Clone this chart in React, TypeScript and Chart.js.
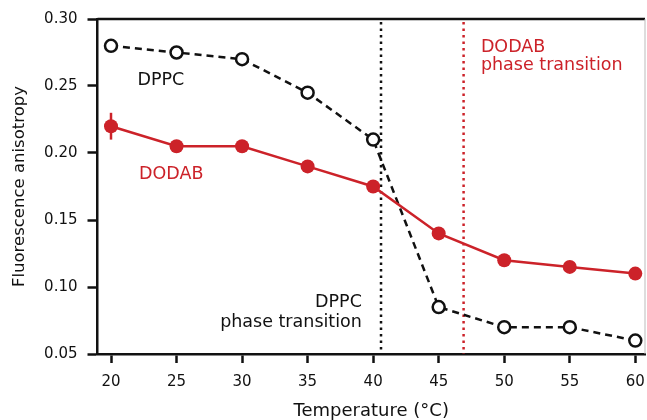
import React, { useEffect, useRef } from "react";
import { Chart, registerables } from "chart.js";

Chart.register(...registerables);

// Temperatures (°C) at which anisotropy was measured
const temperatures = [20, 25, 30, 35, 40, 45, 50, 55, 60];
// Fluorescence anisotropy of DPPC vesicles
const dppcValues = [0.28, 0.275, 0.27, 0.245, 0.21, 0.085, 0.07, 0.07, 0.06];
// Fluorescence anisotropy of DODAB vesicles
const dodabValues = [0.22, 0.205, 0.205, 0.19, 0.175, 0.14, 0.12, 0.115, 0.11];
// Error (± half range) on DODAB points; only the first one is visible
const dodabErrors = [0.01, 0, 0, 0, 0, 0, 0, 0, 0];
// Phase transition temperatures (°C)
const dppcTransition = 40.6;
const dodabTransition = 46.9;
// Axis ticks
const xTicks = [20, 25, 30, 35, 40, 45, 50, 55, 60];
const yTicks = [0.05, 0.1, 0.15, 0.2, 0.25, 0.3];

const RED = "#cc2229";
const FONT = "'DejaVu Sans', sans-serif";

const decorPlugin = {
  id: "decor",
  beforeDatasetsDraw(chart: any) {
    const { ctx, chartArea, scales } = chart;
    const x = scales.x;
    const y = scales.y;
    ctx.save();
    // transition lines
    const vline = (val: number, color: string) => {
      const px = x.getPixelForValue(val);
      ctx.beginPath();
      ctx.strokeStyle = color;
      ctx.lineWidth = 2.5;
      ctx.setLineDash([2.5, 4]);
      ctx.moveTo(px, chartArea.top + 3);
      ctx.lineTo(px, chartArea.bottom);
      ctx.stroke();
    };
    vline(dppcTransition, "#111");
    vline(dodabTransition, RED);
    ctx.setLineDash([]);

    // error bars
    ctx.strokeStyle = RED;
    ctx.lineWidth = 2.5;
    temperatures.forEach((t, i) => {
      const e = dodabErrors[i];
      if (!e) return;
      const px = x.getPixelForValue(t);
      ctx.beginPath();
      ctx.moveTo(px, y.getPixelForValue(dodabValues[i] - e));
      ctx.lineTo(px, y.getPixelForValue(dodabValues[i] + e));
      ctx.stroke();
    });

    // text labels
    ctx.font = `17.5px ${FONT}`;
    ctx.textBaseline = "middle";
    const label = (txt: string, xv: number, yv: number, color: string, align: CanvasTextAlign) => {
      ctx.fillStyle = color;
      ctx.textAlign = align;
      ctx.fillText(txt, x.getPixelForValue(xv), y.getPixelForValue(yv));
    };
    label("DPPC", 23.8, 0.2545, "#111", "center");
    label("DODAB", 24.6, 0.184, RED, "center");
    label("DPPC", 39.14, 0.0888, "#111", "right");
    label("phase transition", 39.14, 0.0739, "#111", "right");
    label("DODAB", 48.22, 0.2791, RED, "left");
    label("phase transition", 48.22, 0.2657, RED, "left");

    // top and right frame
    ctx.strokeStyle = "#111";
    ctx.lineWidth = 2.5;
    ctx.beginPath();
    ctx.moveTo(chartArea.left, chartArea.top);
    ctx.lineTo(chartArea.right, chartArea.top);
    ctx.stroke();
    ctx.strokeStyle = "#bbb";
    ctx.lineWidth = 1;
    ctx.beginPath();
    ctx.moveTo(chartArea.right, chartArea.top);
    ctx.lineTo(chartArea.right, chartArea.bottom);
    ctx.stroke();
    ctx.restore();
  },
};

export default function App() {
  const ref = useRef<HTMLCanvasElement>(null);
  useEffect(() => {
    if (!ref.current) return;
    const chart = new Chart(ref.current, {
      type: "line",
      data: {
        datasets: [
          {
            label: "DPPC",
            data: temperatures.map((t, i) => ({ x: t, y: dppcValues[i] })),
            borderColor: "#111",
            borderWidth: 2.5,
            borderDash: [7, 5],
            pointRadius: 6,
            pointBorderWidth: 2.5,
            pointBackgroundColor: "#fff",
            pointBorderColor: "#111",
            tension: 0,
            order: 2,
            clip: false,
          },
          {
            label: "DODAB",
            data: temperatures.map((t, i) => ({ x: t, y: dodabValues[i] })),
            borderColor: RED,
            borderWidth: 2.5,
            pointRadius: 7,
            pointBorderWidth: 0,
            pointBackgroundColor: RED,
            pointBorderColor: RED,
            tension: 0,
            order: 1,
            clip: false,
          },
        ],
      },
      options: {
        responsive: false,
        animation: false,
        layout: { autoPadding: false, padding: { top: 19, right: 2, left: 0, bottom: 0 } },
        plugins: { legend: { display: false }, tooltip: { enabled: false } },
        scales: {
          x: {
            type: "linear",
            min: 18.97,
            max: 60.74,
            afterBuildTicks: (s: any) => {
              s.ticks = xTicks.map((v) => ({ value: v }));
            },
            afterFit: (s: any) => {
              s.height = 66;
              s.paddingLeft = 0;
              s.paddingRight = 0;
            },
            ticks: {
              color: "#111",
              font: { family: FONT, size: 15 },
              padding: 10,
              maxRotation: 0,
              callback: (v: any) => String(v),
            },
            grid: {
              display: true,
              drawOnChartArea: false,
              drawTicks: true,
              tickLength: 9,
              tickWidth: 2.5,
              tickColor: "#111",
              offset: false,
            },
            border: { display: true, color: "#111", width: 2.5 },
            title: {
              display: true,
              text: "Temperature (°C)",
              color: "#111",
              font: { family: FONT, size: 18, lineHeight: 1.0 },
              padding: { top: 0, bottom: 0 },
            },
          },
          y: {
            type: "linear",
            min: 0.05,
            max: 0.3,
            afterBuildTicks: (s: any) => {
              s.ticks = yTicks.map((v) => ({ value: v }));
            },
            afterFit: (s: any) => {
              s.width = 97.5;
              s.paddingTop = 0;
              s.paddingBottom = 0;
            },
            ticks: {
              color: "#111",
              font: { family: FONT, size: 15 },
              padding: 10,
              callback: (v: any) => Number(v).toFixed(2),
            },
            grid: {
              display: true,
              drawOnChartArea: false,
              drawTicks: true,
              tickLength: 10,
              tickWidth: 2.5,
              tickColor: "#111",
            },
            border: { display: true, color: "#111", width: 2.5 },
            title: {
              display: true,
              text: "Fluorescence anisotropy",
              color: "#111",
              font: { family: FONT, size: 16.5, lineHeight: 1.2 },
              padding: { top: 10, bottom: 0 },
            },
          },
        },
      },
      plugins: [decorPlugin],
    } as any);
    return () => chart.destroy();
  }, []);
  return (
    <div style={{ position: "absolute", left: 0, top: 0, width: 647, height: 420, background: "#fff" }}>
      <canvas ref={ref} width={647} height={420} />
    </div>
  );
}
